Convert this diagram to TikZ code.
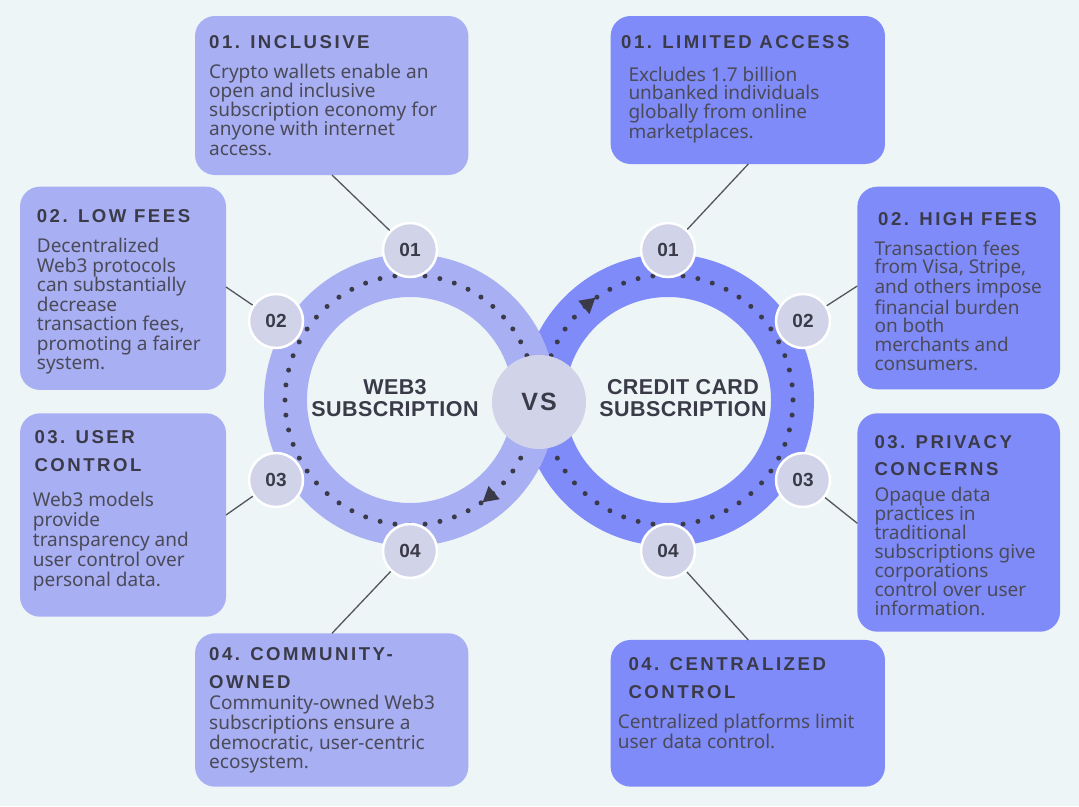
\documentclass[tikz,border=0pt]{standalone}
\usepackage{fontspec}
\setmainfont{Noto Sans}
\newfontfamily\titlefont[LetterSpace=13.5]{Liberation Sans}
\newfontfamily\centerfont[LetterSpace=2]{Liberation Sans}
\newfontfamily\vsfont[LetterSpace=8]{Liberation Sans}
\newfontfamily\badgefont{Liberation Sans}
\usetikzlibrary{shapes.geometric}
\definecolor{bg}{HTML}{EDF5F7}
\definecolor{lightp}{HTML}{A8AFF3}
\definecolor{darkp}{HTML}{808BFA}
\definecolor{badgec}{HTML}{D1D3E8}
\definecolor{ink}{HTML}{3A3A48}
\definecolor{bodyc}{HTML}{4A4A58}
\definecolor{linec}{HTML}{55555F}
\tikzset{
  boxL/.style={rectangle, rounded corners=20pt, fill=lightp, inner sep=0pt, outer sep=0pt},
  boxR/.style={rectangle, rounded corners=20pt, fill=darkp, inner sep=0pt, outer sep=0pt},
  ttl/.style={font=\titlefont\bfseries\fontsize{18.6}{#1}\selectfont, text=ink, inner sep=0pt, align=left, anchor=base west},
  ttl/.default=27.7,
  bodytxt/.style={font=\fontsize{19}{#1}\selectfont, text=bodyc, inner sep=0pt, align=left, anchor=base west},
  bodytxt/.default=19.2,
  ringL/.style={circle, draw=lightp, line width=43pt, minimum size=249pt, inner sep=0pt},
  ringR/.style={circle, draw=darkp, line width=43pt, minimum size=249pt, inner sep=0pt},
  dotring/.style={draw=ink, line width=5pt, line cap=round, dash pattern=on 0pt off 15.104pt},
  arrowtri/.style={regular polygon, regular polygon sides=3, fill=ink, minimum size=20pt, inner sep=0pt},
  badge/.style={circle, fill=badgec, draw=white, line width=2.5pt, minimum size=54pt, inner sep=0pt, font=\badgefont\bfseries\fontsize{19}{19}\selectfont, text=ink},
  conn/.style={draw=linec, line width=1.3pt},
  centertxt/.style={font=\centerfont\bfseries\fontsize{21.5}{22}\selectfont, text=ink, align=center, inner sep=0pt},
}
\begin{document}
\begin{tikzpicture}[x=1pt,y=-1pt]
\fill[bg] (0,0) rectangle (1079,806);
\useasboundingbox (0,0) rectangle (1079,806);

% rings
\node[ringR] (ringRt) at (668,400) {};
\draw[dotring] (668,400) circle[radius=125];
\node[ringL] (ringLt) at (410,400) {};
\draw[dotring] (410,400) circle[radius=125];
\node[arrowtri, rotate=130] (arrL) at (490.3,495.8) {};
\node[arrowtri, rotate=-50] (arrR) at (587.7,304.2) {};

% boxes
\node[boxL, minimum width=273.3pt, minimum height=159pt] (bL1) at (331.7,95.5) {};
\node[boxL, minimum width=206pt, minimum height=203.3pt] (bL2) at (123,288.3) {};
\node[boxL, minimum width=206pt, minimum height=203.4pt] (bL3) at (123,515) {};
\node[boxL, minimum width=273.3pt, minimum height=153.4pt] (bL4) at (331.7,710) {};
\node[boxR, minimum width=274.3pt, minimum height=148pt] (bR1) at (747.8,90) {};
\node[boxR, minimum width=202.7pt, minimum height=202.6pt] (bR2) at (958.7,288) {};
\node[boxR, minimum width=202.7pt, minimum height=218.4pt] (bR3) at (958.7,522.5) {};
\node[boxR, minimum width=274.3pt, minimum height=146.7pt] (bR4) at (747.8,713.3) {};

% connector end points on the boxes
\coordinate (pL1) at (332,175);
\coordinate (pL2) at (226,287);
\coordinate (pL3) at (226,515);
\coordinate (pL4) at (332,633.3);
\coordinate (pR1) at (748.3,164);
\coordinate (pR2) at (857.3,286);
\coordinate (pR3) at (857.3,523.3);
\coordinate (pR4) at (748.3,640);

% VS and badges
\node[circle, fill=badgec, minimum size=94pt, inner sep=0pt, font=\vsfont\bfseries\fontsize{25}{25}\selectfont, text=ink] (vs) at (539,402) {VS};
\node[badge] (cL1) at (410,250) {01};
\node[badge] (cL2) at (276,321) {02};
\node[badge] (cL3) at (276,480) {03};
\node[badge] (cL4) at (410,551) {04};
\node[badge] (cR1) at (668,250) {01};
\node[badge] (cR2) at (803,321) {02};
\node[badge] (cR3) at (803,480) {03};
\node[badge] (cR4) at (668,551) {04};

\draw[conn] (pL1) -- (cL1);
\draw[conn] (pL2) -- (cL2);
\draw[conn] (pL3) -- (cL3);
\draw[conn] (pL4) -- (cL4);
\draw[conn] (pR1) -- (cR1);
\draw[conn] (pR2) -- (cR2);
\draw[conn] (pR3) -- (cR3);
\draw[conn] (pR4) -- (cR4);

% center texts
\node[centertxt] (tWeb) at (395,398) {WEB3\\SUBSCRIPTION};
\node[centertxt] (tCC) at (683,398) {CREDIT CARD\\SUBSCRIPTION};

% box texts (anchor = baseline of the last line)
\node[ttl] (hL1) at (209,48.3) {01. INCLUSIVE};
\node[bodytxt=19.2] (xL1) at (209,155.1) {Crypto wallets enable an\\open and inclusive\\subscription economy for\\anyone with internet\\access.};

\node[ttl] (hL2) at (36.7,222.3) {02. LOW FEES};
\node[bodytxt=19.5] (xL2) at (36.7,369.7) {Decentralized\\Web3 protocols\\can substantially\\decrease\\transaction fees,\\promoting a fairer\\system.};

\node[ttl=27.7] (hL3) at (34.3,471) {03. USER\\CONTROL};
\node[bodytxt=20] (xL3) at (32.7,586.7) {Web3 models\\provide\\transparency and\\user control over\\personal data.};

\node[ttl=27.6] (hL4) at (209,688.3) {04. COMMUNITY-\\OWNED};
\node[bodytxt=18.5] (xL4) at (209,768.2) {Community-owned Web3\\subscriptions ensure a\\democratic, user-centric\\ecosystem.};

\node[ttl] (hR1) at (621,48.3) {01. LIMITED ACCESS};
\node[bodytxt=18.7] (xR1) at (628.3,138.4) {Excludes 1.7 billion\\unbanked individuals\\globally from online\\marketplaces.};

\node[ttl] (hR2) at (878,225.7) {02. HIGH FEES};
\node[bodytxt=18.9] (xR2) at (874.3,370.7) {Transaction fees\\from Visa, Stripe,\\and others impose\\financial burden\\on both\\merchants and\\consumers.};

\node[ttl=26.7] (hR3) at (874.3,475) {03. PRIVACY\\CONCERNS};
\node[bodytxt=19] (xR3) at (874.3,615.7) {Opaque data\\practices in\\traditional\\subscriptions give\\corporations\\control over user\\information.};

\node[ttl=27.6] (hR4) at (628.3,698.3) {04. CENTRALIZED\\CONTROL};
\node[bodytxt=18.3] (xR4) at (617.7,748.3) {Centralized platforms limit\\user data control.};
\end{tikzpicture}
\end{document}
